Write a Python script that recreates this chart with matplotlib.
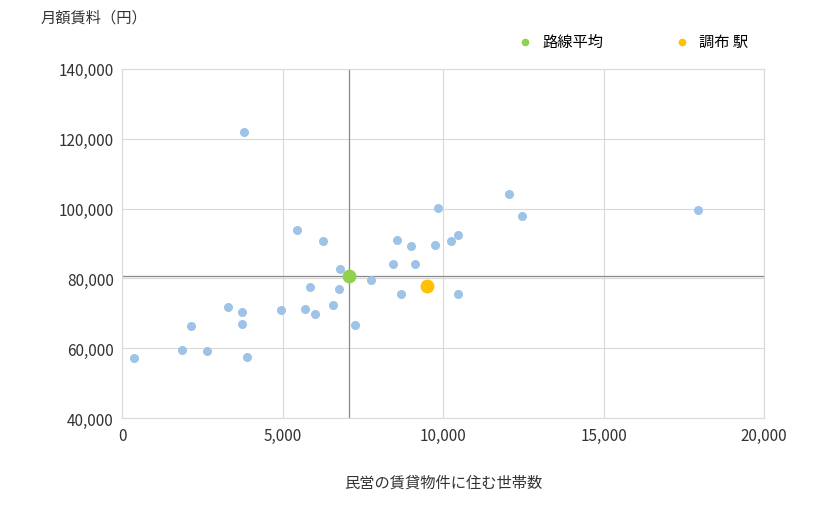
import matplotlib

matplotlib.use("Agg")
import matplotlib.pyplot as plt
from matplotlib.ticker import FuncFormatter

plt.rcParams["font.family"] = ["Noto Sans CJK JP", "DejaVu Sans"]

households = [370, 1870, 2150, 2650, 3300, 3740, 3740, 3800, 3900, 4950,
              5450, 5700, 5860, 6010, 6260, 6570, 6760, 6790, 7260, 7760,
              8440, 8570, 8690, 9000, 9130, 9750, 9840, 10250, 10470, 10470,
              12060, 12460, 17940]
rents = [57300, 59600, 66400, 59300, 71800, 70400, 66900, 121900, 57500, 71000,
         93900, 71200, 77500, 69800, 90700, 72400, 77000, 82700, 66700, 79500,
         84100, 91000, 75500, 89300, 84100, 89600, 100300, 90700, 92400, 75500,
         104200, 97900, 99600]
avg_x, avg_y = 7070, 80700
station_x, station_y = 9500, 77800

fig = plt.figure(figsize=(8.2, 5.1), dpi=100)
ax = fig.add_axes([0.149, 0.178, 0.783, 0.685])

ax.scatter(households, rents, s=30, color="#9dc3e6", zorder=3)
ax.axvline(avg_x, color="#888888", lw=0.9, zorder=2)
ax.axhline(avg_y, color="#888888", lw=0.9, zorder=2)
ax.scatter([avg_x], [avg_y], s=80, color="#92d050", zorder=4, label="路線平均")
ax.scatter([station_x], [station_y], s=80, color="#ffc000", zorder=4, label="調布 駅")

ax.set_xlim(0, 20000)
ax.set_ylim(40000, 140000)
ax.set_xticks(range(0, 20001, 5000))
ax.set_yticks(range(40000, 140001, 20000))
fmt = FuncFormatter(lambda v, p: f"{int(v):,}")
ax.xaxis.set_major_formatter(fmt)
ax.yaxis.set_major_formatter(fmt)
ax.grid(True, color="#d9d9d9", lw=0.8, zorder=0)
for s in ax.spines.values():
    s.set_color("#d9d9d9")
ax.tick_params(length=0, labelsize=11, colors="#333333", pad=6)

ax.set_xlabel("民営の賃貸物件に住む世帯数", fontsize=11, color="#333333", labelpad=22)
fig.text(0.05, 0.955, "月額賃料（円）", fontsize=11, color="#333333")
fig.legend(loc="upper left", bbox_to_anchor=(0.605, 0.96), ncol=2, frameon=False,
           fontsize=11, markerscale=0.5, handletextpad=0.1, columnspacing=4.2)

fig.savefig("out.png")
